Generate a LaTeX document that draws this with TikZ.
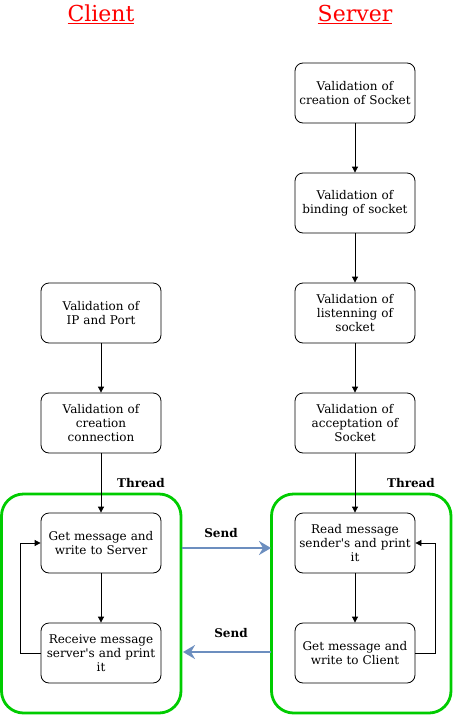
\documentclass[tikz,border=0pt]{standalone}
\usepackage{fontspec}
\setmainfont{DejaVu Serif}
\usetikzlibrary{arrows.meta}
\definecolor{grn}{HTML}{00CC00}
\definecolor{blu}{HTML}{6C8EBF}
\tikzset{
  box/.style={draw, rounded corners=8pt, minimum width=120pt, minimum height=60pt, align=center, text width=118pt, font=\fontsize{12}{14}\selectfont, inner sep=0pt, line width=0.8pt},
  cont/.style={draw=grn, line width=2.8pt, rounded corners=22pt},
  conn/.style={-{Triangle[length=6pt,width=6pt]}, line width=0.8pt},
  sendarr/.style={-{Stealth[length=12pt,width=14pt,inset=4pt]}, draw=blu, line width=2.6pt},
  lbl/.style={font=\fontsize{12}{14}\selectfont\bfseries},
  title/.style={text=red, font=\fontsize{22}{26}\selectfont}
}
\begin{document}
\begin{tikzpicture}[x=1pt,y=-1pt]
\useasboundingbox (0,0) rectangle (453,715);
\node[title] (tc) at (101,14) {\underline{Client}};
\node[title] (ts) at (355,14) {\underline{Server}};
% containers
\draw[cont] (1.5,494) rectangle (181,713);
\draw[cont] (271.5,494) rectangle (451,713);
\node[lbl] (thl) at (141,483) {Thread};
\node[lbl] (thr) at (411,483) {Thread};
% server
\node[box] (s1) at (355,93) {Validation of\\creation of Socket};
\node[box] (s2) at (355,203) {Validation of\\binding of socket};
\node[box] (s3) at (355,313) {Validation of\\listenning of\\socket};
\node[box] (s4) at (355,423) {Validation of\\acceptation of\\Socket};
\node[box] (s5) at (355,543) {Read message\\sender\textquotesingle s and print\\it};
\node[box] (s6) at (355,653) {Get message and\\write to Client};
% client
\node[box] (c1) at (101,313) {Validation of\\IP and Port};
\node[box] (c2) at (101,423) {Validation of\\creation\\connection};
\node[box] (c3) at (101,543) {Get message and\\write to Server};
\node[box] (c4) at (101,653) {Receive message\\server\textquotesingle s and print\\it};
% connectors
\draw[conn] (s1) -- (s2);
\draw[conn] (s2) -- (s3);
\draw[conn] (s3) -- (s4);
\draw[conn] (s4) -- (s5);
\draw[conn] (s5) -- (s6);
\draw[conn] (c1) -- (c2);
\draw[conn] (c2) -- (c3);
\draw[conn] (c3) -- (c4);
\draw[conn] (c4.west) -- ++(-20,0) |- (c3.west);
\draw[conn] (s6.east) -- ++(20,0) |- (s5.east);
% send arrows
\coordinate (a1) at (182,548);
\coordinate (a2) at (271,548);
\coordinate (b1) at (271,652);
\coordinate (b2) at (183,652);
\draw[sendarr] (a1) -- (a2);
\draw[sendarr] (b1) -- (b2);
\node[lbl] (sd1) at (221,533) {Send};
\node[lbl] (sd2) at (231,633) {Send};
\end{tikzpicture}
\end{document}
